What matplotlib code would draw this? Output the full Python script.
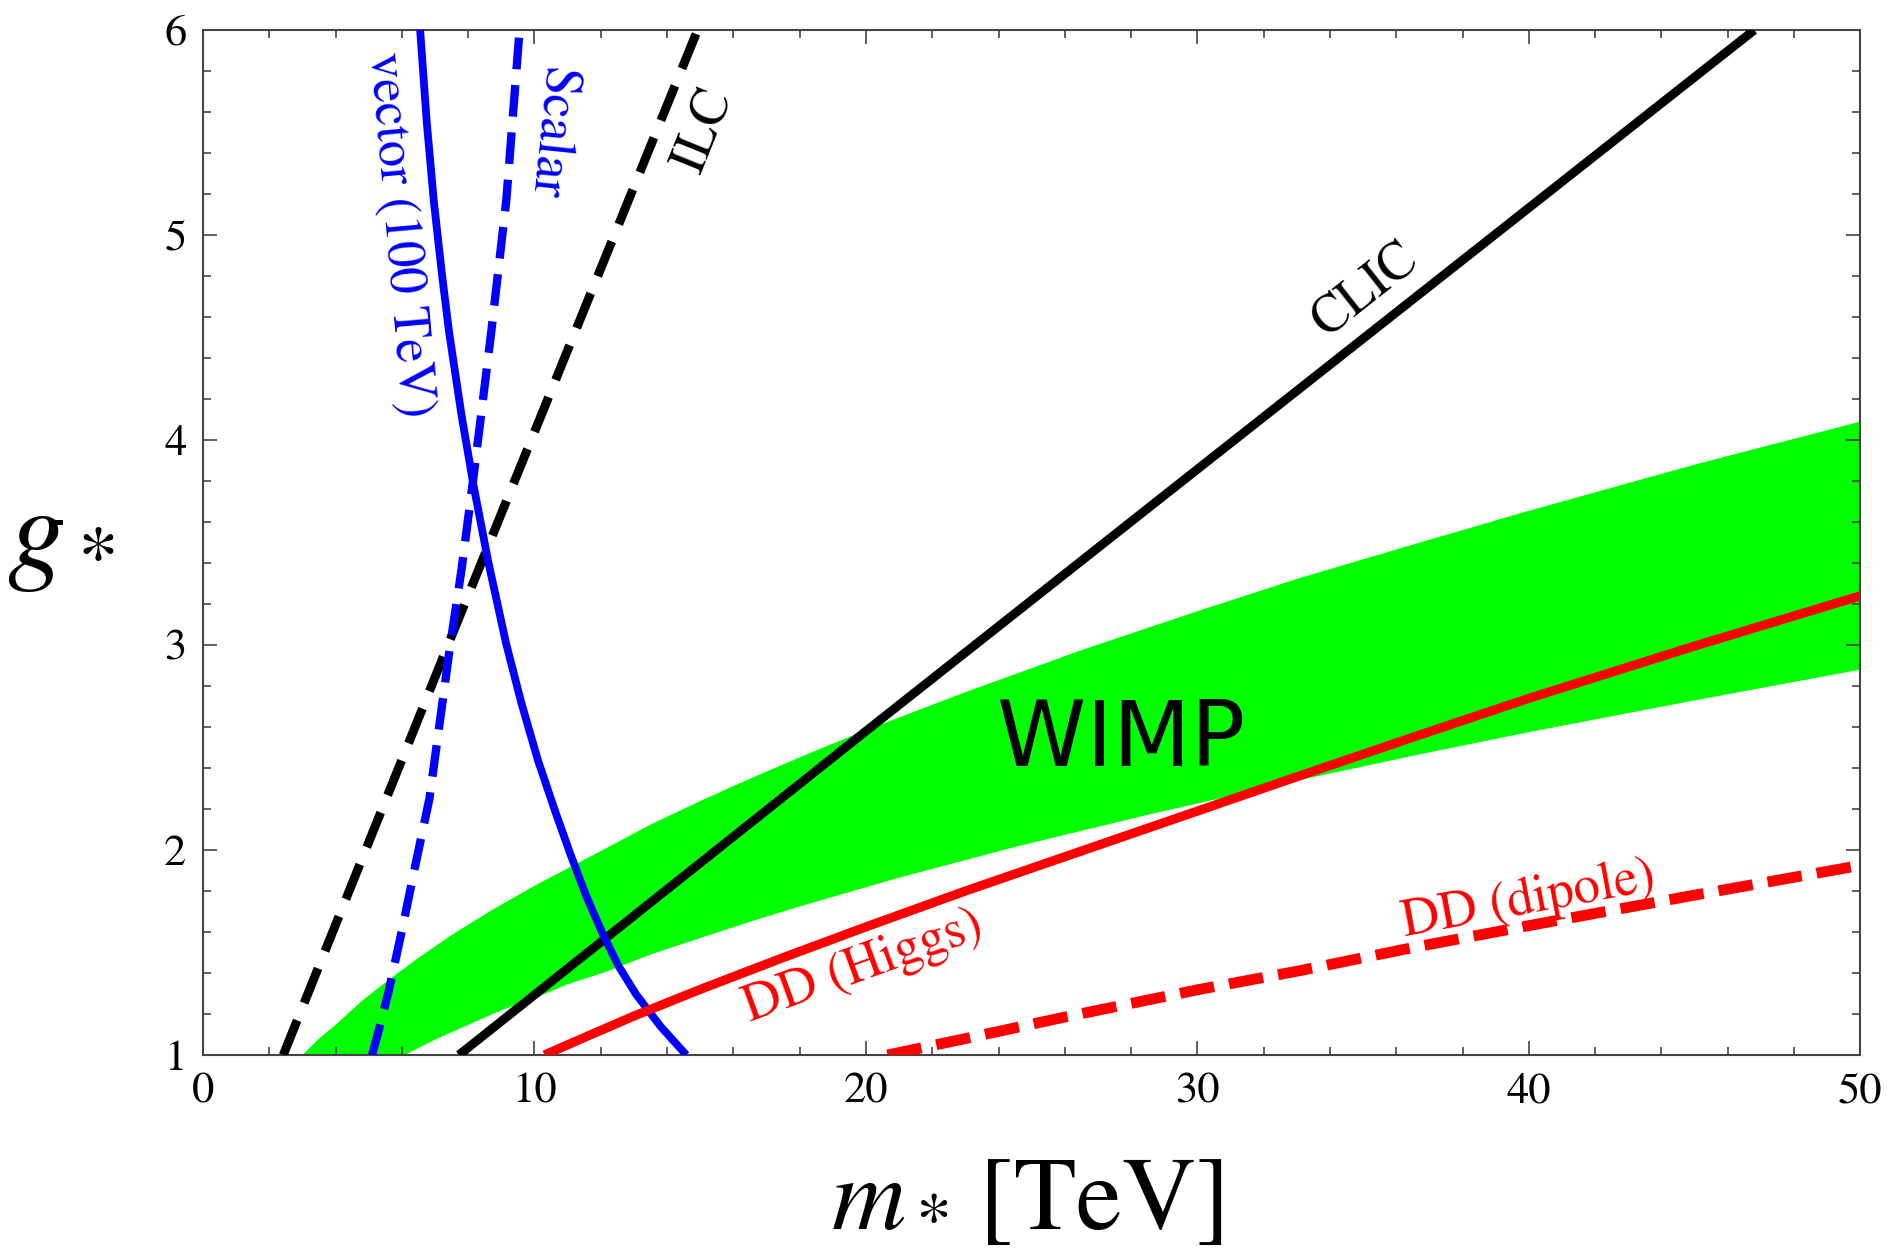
import matplotlib
matplotlib.use('Agg')
from matplotlib import pyplot as plt
from matplotlib.ticker import MultipleLocator
import numpy as np

plt.rcParams['font.family'] = ['STIXGeneral', 'DejaVu Serif']
plt.rcParams['mathtext.fontset'] = 'stix'

# WIMP band (edges)
wimp_upper_m = [3.0, 3.5, 4.02, 4.8, 5.63, 6.5, 7.54, 8.8, 10.05, 12.06, 13.5, 15.08,
                16.0, 17.0, 18.5, 20.0, 23.0, 26.5, 30.0, 33.05, 36.5, 40.0, 45.0, 50.0]
wimp_upper_g = [1.0, 1.08, 1.15, 1.265, 1.37, 1.474, 1.59, 1.715, 1.83, 2.0, 2.124, 2.245,
                2.312, 2.383, 2.486, 2.585, 2.77, 2.975, 3.165, 3.325, 3.49, 3.655, 3.88, 4.09]
wimp_lower_m = [6.08, 7.0, 8.04, 9.0, 10.05, 11.0, 12.06, 13.5, 15.08, 16.5, 17.9, 19.5,
                21.0, 24.5, 28.46, 33.05, 36.5, 40.0, 45.0, 50.0]
wimp_lower_g = [1.0, 1.075, 1.15, 1.218, 1.28, 1.345, 1.40, 1.49, 1.575, 1.65, 1.72, 1.795,
                1.865, 2.015, 2.17, 2.34, 2.46, 2.575, 2.73, 2.88]

# collider reaches
clic_m = [7.72, 20.0, 29.0, 46.8]
clic_g = [1.0, 2.58, 3.73, 6.0]
ilc_m = [2.42, 7.39, 14.92]
ilc_g = [1.0, 3.0, 6.0]

# 100 TeV
vector_m = [6.55, 6.75, 6.96, 7.2, 7.42, 7.8, 8.16, 8.6, 9.14, 9.6, 10.1, 10.6, 11.06,
            11.55, 12.06, 12.55, 13.07, 13.8, 14.58]
vector_g = [6.0, 5.55, 5.17, 4.82, 4.53, 4.12, 3.78, 3.41, 3.01, 2.72, 2.44, 2.2, 1.99,
            1.78, 1.59, 1.43, 1.295, 1.14, 1.0]
scalar_m = [5.1, 5.3, 5.6, 6.03, 6.45, 6.83, 7.44, 7.8, 8.16, 8.69, 9.15, 9.55]
scalar_g = [1.0, 1.12, 1.31, 1.63, 1.96, 2.25, 2.98, 3.37, 3.82, 4.52, 5.17, 6.0]

# direct detection
higgs_m = [10.3, 11.5, 13.0, 15.08, 17.5, 20.0, 23.0, 26.5, 30.0, 33.05, 36.5, 40.0,
           45.0, 50.0]
higgs_g = [1.0, 1.085, 1.19, 1.325, 1.475, 1.625, 1.80, 1.995, 2.19, 2.36, 2.55, 2.74,
           2.995, 3.24]
dipole_m = [20.65, 23.0, 26.0, 30.0, 33.05, 36.5, 40.0, 45.0, 50.0]
dipole_g = [1.0, 1.08, 1.185, 1.318, 1.41, 1.524, 1.631, 1.78, 1.925]

fig = plt.figure(figsize=(18.94, 12.54), dpi=100)
ax = fig.add_axes([0.1072, 0.1587, 0.875, 0.8173])

band_m = np.concatenate([wimp_upper_m, wimp_lower_m[::-1]])
band_g = np.concatenate([wimp_upper_g, wimp_lower_g[::-1]])
ax.fill(band_m, band_g, color='#00ff00', lw=0, zorder=1)

ax.plot(clic_m, clic_g, color='black', lw=6.4, solid_capstyle='butt', zorder=3)
ax.plot(ilc_m, ilc_g, color='black', lw=6.4, dashes=(4.2, 2.1), zorder=3)
ax.plot(vector_m, vector_g, color='#0000ff', lw=5.6, solid_capstyle='butt', zorder=3)
ax.plot(scalar_m, scalar_g, color='#0000ff', lw=6.0, dashes=(3.8, 1.9), zorder=3)
ax.plot(higgs_m, higgs_g, color='#ff0000', lw=6.6, solid_capstyle='butt', zorder=3)
ax.plot(dipole_m, dipole_g, color='#ff0000', lw=7.8, dashes=(3.2, 1.4), zorder=3)

lab = 38
ax.text(35.06, 4.73, 'CLIC', rotation=38.3, fontsize=lab, ha='center', va='center')
ax.text(15.1, 5.51, 'ILC', rotation=68, fontsize=lab, ha='center', va='center')
ax.text(5.9, 5.0, 'vector (100 TeV)', rotation=-85, color='#0000ff', fontsize=lab,
        ha='center', va='center')
ax.text(10.5, 5.5, 'Scalar', rotation=-96, color='#0000ff', fontsize=lab,
        ha='center', va='center')
ax.text(19.93, 1.43, 'DD (Higgs)', rotation=20, color='#ff0000', fontsize=lab,
        ha='center', va='center')
ax.text(40.0, 1.755, 'DD (dipole)', rotation=10.5, color='#ff0000', fontsize=lab,
        ha='center', va='center')
ax.text(27.7, 2.53, 'WIMP', fontsize=65, family='DejaVu Sans', ha='center', va='center')

ax.set_xlim(0, 50)
ax.set_ylim(1, 6)
ax.xaxis.set_major_locator(MultipleLocator(10))
ax.xaxis.set_minor_locator(MultipleLocator(2))
ax.yaxis.set_major_locator(MultipleLocator(1))
ax.yaxis.set_minor_locator(MultipleLocator(0.2))
ax.tick_params(which='both', direction='in', top=True, right=True, color='#444444',
               width=1.2)
ax.tick_params(which='major', length=10, labelsize=32)
ax.tick_params(which='minor', length=6)
ax.tick_params(axis='x', pad=13)
ax.tick_params(axis='y', pad=12)
for s in ax.spines.values():
    s.set_color('#444444')
    s.set_linewidth(1.5)

fig.text(0.542, 0.039, r'$m_*\,$[TeV]', fontsize=74, ha='center', va='center')
fig.text(0.032, 0.568, r'$g_*$', fontsize=84, ha='center', va='center')

fig.savefig('out.png', dpi=100)
